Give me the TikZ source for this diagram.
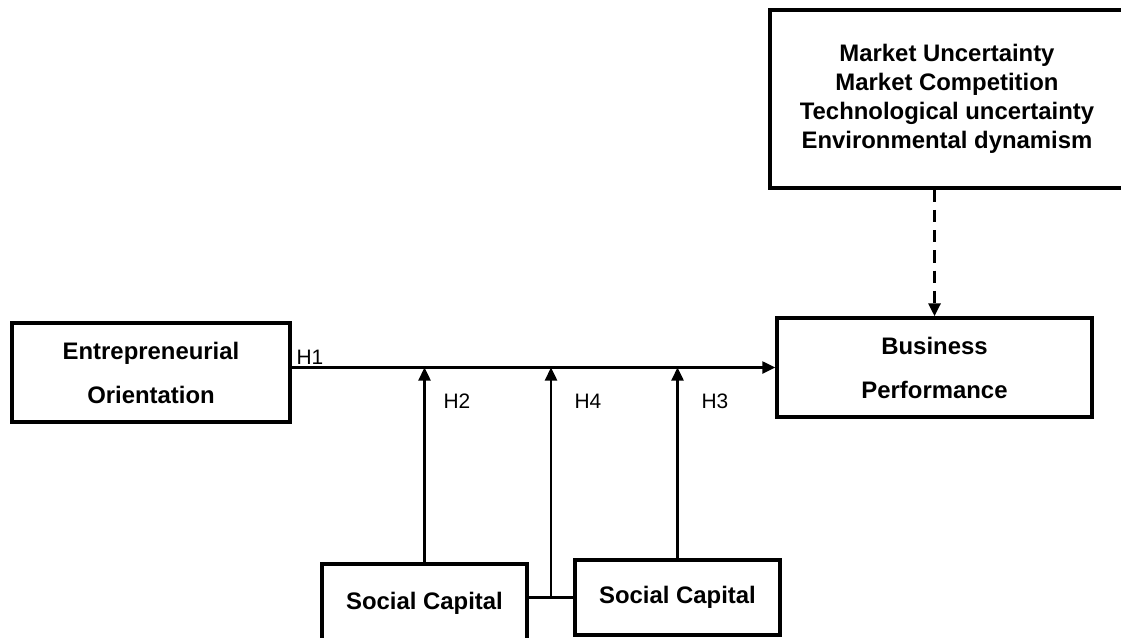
\documentclass[tikz,border=0pt]{standalone}
\usepackage{fontspec}
\setmainfont{Liberation Sans}
\usetikzlibrary{arrows.meta,positioning,calc}
\begin{document}
\begin{tikzpicture}[x=0.02cm, y=-0.02cm,
  box/.style={draw, line width=2pt, minimum width=4.1cm, minimum height=1.5cm,
              font=\fontsize{13.6}{25}\selectfont\bfseries, align=center, inner sep=0pt},
  listbox/.style={box, font=\fontsize{13.6}{16.4}\selectfont\bfseries},
  arrow/.style={-{Triangle[length=2.6mm, width=2.4mm]}, line width=1.4pt},
  hlabel/.style={font=\fontsize{11.9}{14}\selectfont, inner sep=0pt},
]
\useasboundingbox (0,0) rectangle (1121,637);
% Row 1: moderators
\node[listbox, minimum width=7.08cm, minimum height=3.56cm] (env) at (947,99)
  {Market Uncertainty\\Market Competition\\Technological uncertainty\\Environmental dynamism};

% Row 2: main path
\node[box, minimum width=5.56cm, minimum height=1.98cm] (eo) at (151,372.5) {Entrepreneurial\\Orientation};
\node[box, minimum width=6.3cm, minimum height=1.98cm] (bp) at (934.5,367.5) {Business\\Performance};

% Row 3: social capital
\node[box, minimum height=1.56cm] (sc1) at (424.5,603) {Social Capital};
\node[box] (sc2) at (677.5,597.5) {Social Capital};

% Hypotheses
\node[hlabel] (h1) at (310,357) {H1};
\node[hlabel] (h2) at (457,401) {H2};
\node[hlabel] (h4) at (588,401) {H4};
\node[hlabel] (h3) at (715,401) {H3};

\draw[arrow] (eo.east |- bp.west) -- (bp.west);
\draw[line width=1.4pt] (sc1.east |- sc2.west) -- (sc2.west);
\coordinate (join) at ($(sc1.east |- sc2.west)!0.5!(sc2.west)$);
\draw[arrow] (sc1.north) -- (sc1.north |- bp.west);
\draw[arrow] (join) -- (join |- bp.west);
\draw[arrow] (sc2.north) -- (sc2.north |- bp.west);
\draw[arrow, line width=1.8pt, dash pattern=on 7pt off 4.5pt] (env.south -| bp.north) -- (bp.north);
\end{tikzpicture}
\end{document}
